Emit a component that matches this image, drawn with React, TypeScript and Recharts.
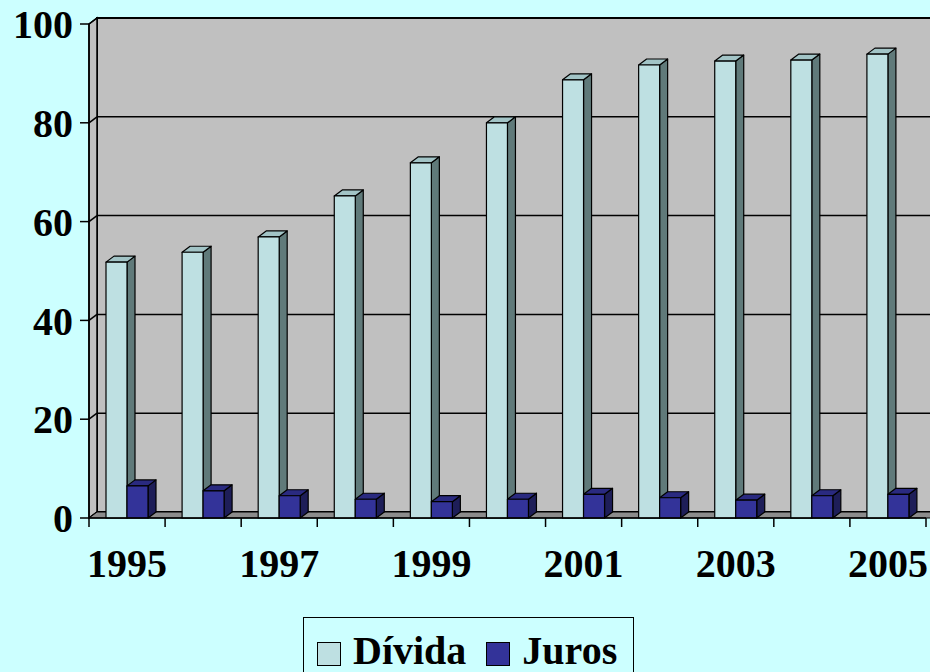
import React from 'react';
import * as R from 'recharts';

const { BarChart, Bar, XAxis, YAxis } = R as any;

const categories = ['1995', '1996', '1997', '1998', '1999', '2000', '2001', '2002', '2003', '2004', '2005'];
const divida = [51.8, 53.8, 56.9, 65.2, 71.9, 80.0, 88.7, 91.7, 92.5, 92.7, 93.9];
const juros = [6.5, 5.5, 4.5, 3.8, 3.3, 3.8, 4.8, 4.1, 3.6, 4.5, 4.8];
const yTicks = [0, 20, 40, 60, 80, 100];
const seriesNames = ['Dívida', 'Juros'];

const data = categories.map((c, i) => ({ year: c, divida: divida[i], juros: juros[i] }));

const DX = 8;
const DY = 6;
const FONT = '"Liberation Serif", "Times New Roman", serif';
const BG = '#CCFFFF';
const WALL = '#C0C0C0';
const FLOOR = '#8C8C8C';
const DIV_FRONT = '#BEE0E2';
const DIV_SIDE = '#607A7A';
const DIV_TOP = '#A2C4C6';
const JUR_FRONT = '#333399';
const JUR_SIDE = '#1E1E58';
const JUR_TOP = '#2A2A80';

const usePlotAreaSafe: any = (R as any).usePlotArea || (() => null);

function Walls() {
  const a = usePlotAreaSafe();
  if (!a) return null;
  const { x, y, width, height } = a;
  const b = y + height;
  const r = x + width;
  return (
    <g>
      <rect x={x + DX} y={y - DY} width={width + 20} height={height} fill={WALL} stroke="#000" strokeWidth={2} />
      <polygon
        points={`${x},${b} ${x},${y} ${x + DX},${y - DY} ${x + DX},${b - DY}`}
        fill={WALL}
        stroke="#000"
        strokeWidth={1.5}
      />
      {yTicks.map((v) => {
        const yy = b - (v / 100) * height;
        return (
          <g key={v}>
            <line x1={x + DX} y1={yy - DY} x2={r + DX + 20} y2={yy - DY} stroke="#000" strokeWidth={1.5} />
            <line x1={x} y1={yy} x2={x + DX} y2={yy - DY} stroke="#000" strokeWidth={1.5} />
          </g>
        );
      })}
      <polygon
        points={`${x},${b} ${r + 20},${b} ${r + DX + 20},${b - DY} ${x + DX},${b - DY}`}
        fill={FLOOR}
        stroke="#000"
        strokeWidth={1}
      />
    </g>
  );
}

function makeShape(front: string, side: string, top: string) {
  return (props: any) => {
    const { x, y, width, height } = props;
    if (x == null || height == null) return <g />;
    const w = width;
    const h = height;
    return (
      <g stroke="#000" strokeWidth={1.2} strokeLinejoin="round">
        <polygon
          points={`${x + w},${y} ${x + w + DX},${y - DY} ${x + w + DX},${y + h - DY} ${x + w},${y + h}`}
          fill={side}
        />
        <polygon points={`${x},${y} ${x + DX},${y - DY} ${x + w + DX},${y - DY} ${x + w},${y}`} fill={top} />
        <rect x={x} y={y} width={w} height={h} fill={front} />
      </g>
    );
  };
}

function XTick(props: any) {
  const { x, y, payload, index } = props;
  const half = payload && typeof payload.offset === 'number' && payload.offset > 0 ? payload.offset : 38;
  const isLast = index === categories.length - 1;
  return (
    <g>
      <line x1={x - half} y1={y} x2={x - half} y2={y + 9} stroke="#000" strokeWidth={1.5} />
      {isLast && <line x1={x + half} y1={y} x2={x + half} y2={y + 9} stroke="#000" strokeWidth={1.5} />}
      {index % 2 === 0 && (
        <text
          x={x}
          y={y + 45}
          textAnchor="middle"
          dominantBaseline="central"
          fontFamily={FONT}
          fontWeight="bold"
          fontSize={40}
          fill="#000"
        >
          {payload.value}
        </text>
      )}
    </g>
  );
}

function LegendBox() {
  const items = [
    { name: seriesNames[0], color: DIV_FRONT },
    { name: seriesNames[1], color: JUR_FRONT },
  ];
  return (
    <div
      style={{
        position: 'absolute',
        left: 303,
        top: 617,
        width: 331,
        height: 70,
        boxSizing: 'border-box',
        border: '1.5px solid #000',
        display: 'flex',
        alignItems: 'flex-start',
        paddingLeft: 13,
        paddingTop: 10,
        fontFamily: FONT,
        fontWeight: 'bold',
        fontSize: 40,
        lineHeight: '46px',
        color: '#000',
      }}
    >
      {items.map((it, i) => (
        <div key={it.name} style={{ display: 'flex', alignItems: 'center', marginRight: i === 0 ? 20 : 0 }}>
          <span
            style={{
              display: 'inline-block',
              width: 24,
              height: 24,
              boxSizing: 'border-box',
              background: it.color,
              border: '1.5px solid #000',
              marginRight: 12,
              marginTop: 6,
            }}
          />
          <span>{it.name}</span>
        </div>
      ))}
    </div>
  );
}

export default function App() {
  return (
    <div
      style={{
        position: 'absolute',
        left: 0,
        top: 0,
        width: 930,
        height: 672,
        overflow: 'hidden',
        background: BG,
      }}
    >
      <BarChart
        width={930}
        height={672}
        data={data}
        margin={{ top: 24, right: 4, left: 0, bottom: 94 }}
        barGap={0}
        barSize={21}
      >
        <Walls />
        <XAxis
          dataKey="year"
          interval={0}
          tickLine={false}
          tickSize={0}
          tickMargin={0}
          height={60}
          axisLine={{ stroke: '#000', strokeWidth: 1.5 }}
          tick={<XTick />}
        />
        <YAxis
          type="number"
          domain={[0, 100]}
          ticks={yTicks}
          width={89}
          tickSize={9}
          tickMargin={7}
          axisLine={{ stroke: '#000', strokeWidth: 1.5 }}
          tickLine={{ stroke: '#000', strokeWidth: 1.5 }}
          tick={{ fontFamily: FONT, fontWeight: 'bold', fontSize: 40, fill: '#000' }}
        />
        <Bar
          dataKey="divida"
          name={seriesNames[0]}
          fill={DIV_FRONT}
          isAnimationActive={false}
          shape={makeShape(DIV_FRONT, DIV_SIDE, DIV_TOP)}
        />
        <Bar
          dataKey="juros"
          name={seriesNames[1]}
          fill={JUR_FRONT}
          isAnimationActive={false}
          shape={makeShape(JUR_FRONT, JUR_SIDE, JUR_TOP)}
        />
      </BarChart>
      <LegendBox />
    </div>
  );
}
